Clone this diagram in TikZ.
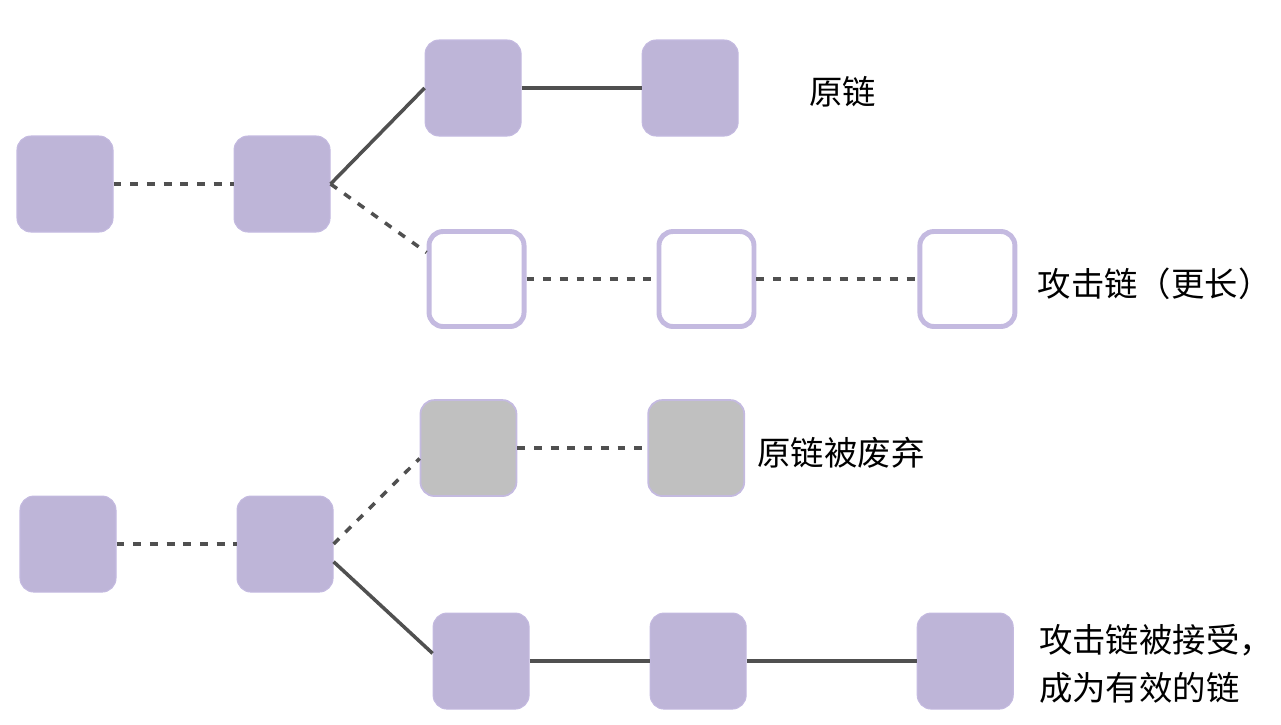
\documentclass[tikz,border=0pt]{standalone}
\usepackage{fontspec}
\usepackage{tikz}
\usetikzlibrary{positioning}
\newfontfamily\cjk{Noto Sans CJK SC}
\definecolor{mypurple}{RGB}{190,181,216}
\definecolor{myedge}{RGB}{196,186,224}
\definecolor{mygrey}{RGB}{192,192,192}
\definecolor{mydark}{RGB}{80,80,80}
\tikzset{
  blockbox/.style={rectangle, draw=myedge, fill=mypurple, minimum size=1.92cm,
    rounded corners=0.28cm, line width=0.6pt, inner sep=0pt},
  hollowbox/.style={rectangle, draw=myedge, fill=white, minimum size=1.9cm,
    rounded corners=0.28cm, line width=2.8pt, inner sep=0pt},
  deadbox/.style={rectangle, draw=myedge, fill=mygrey, minimum size=1.92cm,
    rounded corners=0.28cm, line width=1pt, inner sep=0pt},
  label/.style={font=\cjk\fontsize{19pt}{27.3pt}\selectfont, text=black, align=left, inner sep=0pt},
  line/.style={line width=2pt, color=mydark},
  dashline/.style={line width=2pt, color=mydark, dash pattern=on 4.5pt off 5pt}
}
\begin{document}
\begin{tikzpicture}
  \useasboundingbox (0,0) rectangle (25.62,-14.48);

  % Nodes: original chain
  \node[blockbox] (a1) at (1.30,-3.68) {};
  \node[blockbox, right=2.4cm of a1] (a2) {};
  \node[blockbox, right=1.88cm of a2, yshift=1.92cm] (a3) {};
  \node[blockbox, right=2.4cm of a3] (a4) {};
  \node[label, right=1.4cm of a4, yshift=-0.08cm] (l1) {原链};

  % Nodes: attack chain
  \node[hollowbox, right=1.92cm of a2, yshift=-1.9cm] (b1) {};
  \node[hollowbox, right=2.6cm of b1] (b2) {};
  \node[hollowbox, right=3.22cm of b2] (b3) {};
  \node[label, right=0.4cm of b3, yshift=-0.1cm] (l2) {攻击链（更长）};

  % Nodes: after the fork
  \node[blockbox, below=5.26cm of a1, xshift=0.06cm] (c1) {};
  \node[blockbox, right=2.4cm of c1] (c2) {};
  \node[deadbox, right=1.72cm of c2, yshift=1.92cm] (c3) {};
  \node[deadbox, right=2.6cm of c3] (c4) {};
  \node[label, right=0.24cm of c4, yshift=-0.1cm] (l3) {原链被废弃};

  \node[blockbox, right=1.98cm of c2, yshift=-2.34cm] (d1) {};
  \node[blockbox, right=2.4cm of d1] (d2) {};
  \node[blockbox, right=3.4cm of d2] (d3) {};
  \node[label, right=0.5cm of d3, yshift=-0.06cm] (l4) {攻击链被接受，\\成为有效的链};

  % Connections
  \draw[dashline] (a1) -- (a2);
  \draw[line] (a2.east) -- (a3.west);
  \draw[line] (a3) -- (a4);
  \draw[dashline] (a2.east) -- (b1.152);
  \draw[dashline] (b1) -- (b2);
  \draw[dashline] (b2) -- (b3);

  \draw[dashline] (c1) -- (c2);
  \draw[dashline] (c2.east) -- (c3.192);
  \draw[dashline] (c3) -- (c4);
  \draw[line] (c2.-20) -- (d1.171);
  \draw[line] (d1) -- (d2);
  \draw[line] (d2) -- (d3);

\end{tikzpicture}
\end{document}
